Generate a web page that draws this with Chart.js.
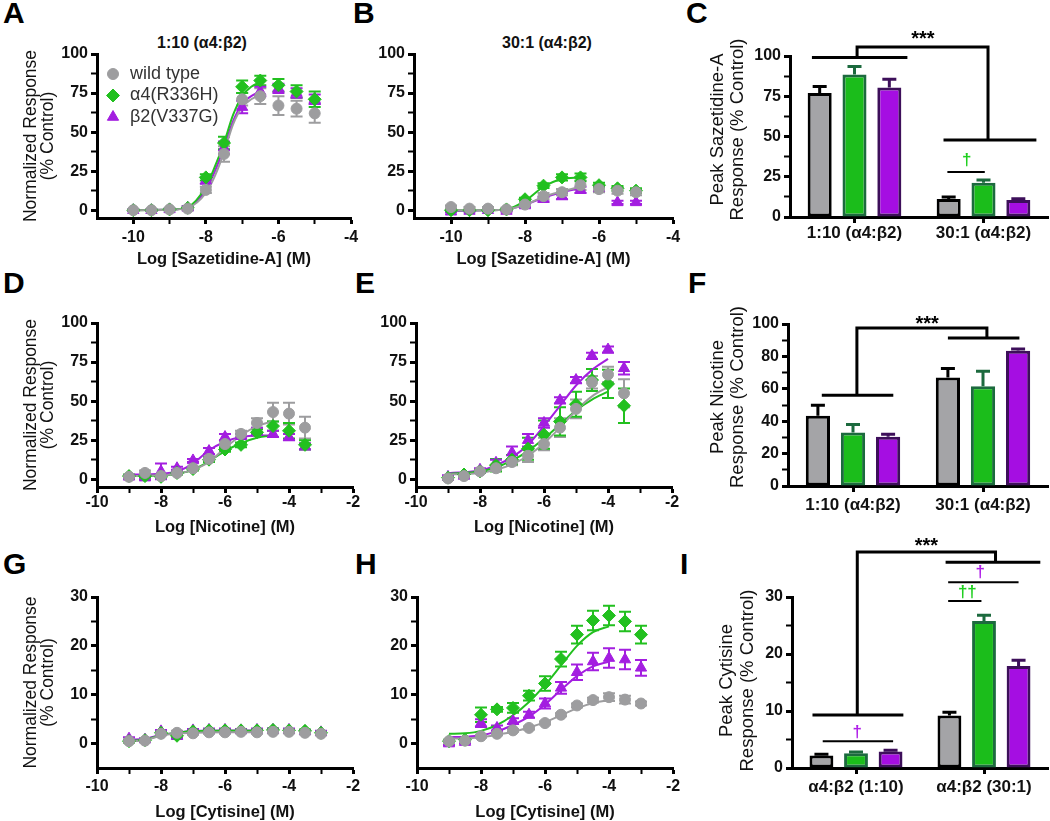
<!DOCTYPE html>
<html lang="en">
<head>
<meta charset="UTF-8">
<title>Peak response panels</title>
<script src="https://cdn.jsdelivr.net/npm/chart.js"></script>
<style>
  body { margin:0; background:#fff; font-family: Arial, "Liberation Sans", sans-serif; }
  #fig { position:relative; width:1050px; height:821px; overflow:hidden; }
  #fig canvas { position:absolute; }
  .lbl { position:absolute; font-weight:bold; font-size:30px; line-height:30px; color:#000; }
  .ttl { position:absolute; font-weight:bold; font-size:16px; line-height:18px; color:#111; transform:translateX(-50%); white-space:nowrap; }
</style>
</head>
<body>
<div id="fig">
  <div class="lbl" style="left:3px;top:-2px">A</div>
  <div class="lbl" style="left:353px;top:-2px">B</div>
  <div class="lbl" style="left:686px;top:-2px">C</div>
  <div class="lbl" style="left:3px;top:268px">D</div>
  <div class="lbl" style="left:355px;top:268px">E</div>
  <div class="lbl" style="left:688px;top:268px">F</div>
  <div class="lbl" style="left:3px;top:549px">G</div>
  <div class="lbl" style="left:355px;top:549px">H</div>
  <div class="lbl" style="left:680px;top:549px">I</div>
  <div class="ttl" style="left:202px;top:34px">1:10 (α4:β2)</div>
  <div class="ttl" style="left:547px;top:34px">30:1 (α4:β2)</div>
</div>
<script>
// ---- data ----
// A: Sazetidine-A, 1:10
const saX = [-10, -9.5, -9, -8.5, -8, -7.5, -7, -6.5, -6, -5.5, -5];
const aWt = [0, 0, 0.5, 1, 13, 36, 71, 73, 67, 65, 62];
const aWtErr = [0.5, 0.5, 0.5, 1, 2, 5, 4, 5, 6, 5, 6];
const aR = [0, 0, 0.5, 1.5, 21, 43, 79, 83, 80, 76, 71];
const aRErr = [0.5, 0.5, 0.5, 1, 2, 4, 4, 3, 4, 4, 5];
const aV = [0, 0, 0.5, 1.5, 19, 40, 66, 76, 78, 75, 71];
const aVErr = [0.5, 0.5, 0.5, 1, 2, 4, 4, 3, 3, 3, 3];
const aFitX = [-10, -9, -8.5, -8, -7.75, -7.5, -7.25, -7, -6.75, -6.5];
const aFitWt = [0, 0.3, 1.5, 11, 22, 37, 55, 66, 71, 74];
const aFitR = [0, 0.4, 2, 15, 28, 43, 61, 73, 79, 82];
const aFitV = [0, 0.4, 1.8, 13, 25, 40, 57, 68, 73, 76];

// B: Sazetidine-A, 30:1
const bWt = [2, 1, 1, 0.5, 3.6, 9, 11.5, 16, 13.5, 12.5, 11.5];
const bWtErr = [1, 1, 1, 1, 1, 2, 2, 3, 2, 2, 2];
const bR = [0, 0, 0, 0.5, 7, 15.7, 21, 21, 16, 14, 12.5];
const bRErr = [0.5, 0.5, 0.5, 0.5, 1, 1.5, 2, 2.5, 1.5, 1.5, 1.5];
const bV = [-1, -0.5, 0, -0.5, 3, 7, 9, 13, 14, 5, 5];
const bVErr = [0.5, 0.5, 0.5, 0.5, 1, 1.5, 2, 2, 1.5, 1, 1];
const bFitX = [-10, -9, -8.5, -8, -7.5, -7, -6.5];
const bFitWt = [0, 0, 0.5, 3.5, 8.5, 12, 15];
const bFitR = [0, 0, 0.5, 6, 15, 20, 21];
const bFitV = [-0.5, 0, 0.5, 3.5, 8, 11.5, 14];

// D, E: Nicotine
const niX = [-9, -8.5, -8, -7.5, -7, -6.5, -6, -5.5, -5, -4.5, -4, -3.5];
const dWt = [1.5, 4, 2, 4, 7, 13, 22.5, 29, 36, 43, 42, 33];
const dWtErr = [1, 1.5, 1, 1, 1, 1.5, 2, 2, 3, 6, 7, 7];
const dR = [2, 2, 1.5, 4, 6.5, 12.5, 19, 22, 30, 34, 31, 22];
const dRErr = [1, 1, 1, 1, 1, 1.5, 1.5, 1.5, 2, 3, 5, 3];
const dV = [1.5, 1, 5, 7, 12, 18, 27, 27.5, 31, 29, 27, 21];
const dVErr = [1, 1, 5, 1, 1, 2, 2, 1.5, 2, 2, 2, 2];
const dFitX = [-9, -8, -7.5, -7, -6.5, -6, -5.5, -5, -4.5];
const dFitWt = [2, 2.5, 3.5, 6, 11, 20, 28, 34, 37];
const dFitR = [2, 2.3, 3.5, 6, 11.5, 18, 23, 26.5, 28];
const dFitV = [3, 3.5, 5, 10, 18.5, 24, 27, 28, 28];

const eWt = [0.5, 2, 5, 7, 11, 15, 22.5, 33, 45, 62, 67, 55];
const eWtErr = [1, 1, 1, 1, 2, 4, 4, 6, 6, 4, 5, 9];
const eR = [1, 3, 5, 9, 12.5, 19.5, 28.5, 37, 48, 63.5, 61, 47];
const eRErr = [1, 1, 1, 4, 3, 7, 9, 9, 8, 7, 9, 11];
const eV = [1.5, 2, 6, 10.5, 17, 25, 36, 50.5, 63.5, 79, 83, 71];
const eVErr = [1, 1, 1, 2, 4, 4, 3, 2, 2, 2, 2, 4];
const eFitX = [-9, -8.5, -8, -7.5, -7, -6.5, -6, -5.5, -5, -4.5, -4];
const eFitWt = [3, 3.3, 4, 6, 9.5, 15, 23, 33, 44, 53, 59];
const eFitR = [3.5, 4, 5, 7.5, 12, 18, 26, 35, 44, 51, 56];
const eFitV = [4, 4.5, 5.5, 9, 14, 22, 34, 47, 60, 70, 77];

// G, H: Cytisine
const cyX = [-9, -8.5, -8, -7.5, -7, -6.5, -6, -5.5, -5, -4.5, -4, -3.5, -3];
const gWt = [0.5, 0.6, 2, 2.2, 2.1, 2.3, 2.3, 2.4, 2.3, 2.4, 2.4, 2.2, 2.0];
const gR = [0.5, 0.7, 2.2, 1.6, 2.5, 2.7, 2.7, 2.7, 2.7, 2.8, 2.7, 2.6, 2.2];
const gV = [1, 0.8, 2.5, 1.5, 2.7, 2.8, 2.8, 2.7, 2.8, 2.8, 2.8, 2.5, 2.3];
const gErr = [0.3, 0.3, 0.3, 0.4, 0.3, 0.3, 0.3, 0.3, 0.3, 0.3, 0.3, 0.3, 0.3];
const gFitX = [-9, -8.5, -8, -7.5, -7, -6, -5];
const gFitWt = [0.5, 0.7, 1.6, 2.1, 2.2, 2.3, 2.3];
const gFitR = [0.6, 0.8, 1.7, 2.2, 2.5, 2.6, 2.6];
const gFitV = [0.8, 1, 1.8, 2.2, 2.6, 2.7, 2.7];

const hWt = [0.5, 0.6, 1.5, 2, 2.7, 3.2, 4.2, 5.9, 7.8, 8.9, 9.5, 9.0, 8.2];
const hWtErr = [0.2, 0.2, 0.3, 0.3, 0.3, 0.3, 0.3, 0.3, 0.4, 0.5, 0.8, 0.8, 0.4];
const hR = [0.5, 0.8, 5.9, 7, 7.3, 9.8, 12.3, 17.3, 22.3, 25.2, 26.2, 25, 22.3];
const hRErr = [0.3, 0.3, 1.5, 0.5, 1, 1, 1.5, 1.5, 1.8, 2, 2, 2, 1.8];
const hV = [0, 0.3, 4.2, 3.2, 4.6, 5.9, 8.2, 11.4, 14.6, 16.8, 17.5, 17.2, 15.5];
const hVErr = [0.3, 0.3, 0.8, 0.5, 0.6, 0.6, 1, 1.2, 1.6, 1.8, 2, 2, 1.6];
const hFitX = [-9, -8.5, -8, -7.5, -7, -6.5, -6, -5.5, -5, -4.5, -4];
const hFitWt = [1, 1.1, 1.3, 1.8, 2.4, 3.3, 4.4, 5.8, 7.2, 8.3, 8.9];
const hFitR = [2, 2.1, 2.6, 3.8, 5.8, 8.5, 12, 16, 20, 22.8, 24];
const hFitV = [1.3, 1.4, 1.7, 2.5, 3.8, 5.5, 8, 11, 13.8, 15.8, 16.8];

// C, F, I: peak responses
const ratioCats = ['1:10 (α4:β2)', '30:1 (α4:β2)'];
const ratioCatsI = ['α4:β2 (1:10)', 'α4:β2 (30:1)'];
const cWt = [77, 11.2], cWtErr = [4, 1.2];
const cR = [88.5, 21.3], cRErr = [5, 1.7];
const cV = [80.5, 10.5], cVErr = [5, 0.8];
const fWt = [43.4, 67], fWtErr = [6.5, 5.5];
const fR = [33, 61.5], fRErr = [5, 9.3];
const fV = [30.4, 83.5], fVErr = [1.6, 1];
const iWt = [2.2, 9.2], iWtErr = [0.2, 0.6];
const iR = [2.6, 25.8], iRErr = [0.2, 1];
const iV = [2.9, 17.9], iVErr = [0.2, 1];

const seriesNames = ['wild type', 'α4(R336H)', 'β2(V337G)'];

// significance marks, in axis units (category index, response)
const annC = {
  lines: [
    {w: 3, pts: [[-0.33, 99], [0.41, 99]]},
    {w: 3, pts: [[0.02, 99], [0.02, 105.6], [1.035, 105.6], [1.035, 47.8]]},
    {w: 3, pts: [[0.69, 47.8], [1.41, 47.8]]},
    {w: 2, pts: [[0.72, 28], [1.01, 28]]}
  ],
  texts: [
    {x: 0.53, y: 110, s: '***', c: '#000', size: 20},
    {x: 0.87, y: 35, s: '†', c: 'green'}
  ]
};
const annF = {
  lines: [
    {w: 3, pts: [[-0.24, 56], [0.31, 56]]},
    {w: 3, pts: [[0.03, 56], [0.03, 97.5], [1.03, 97.5], [1.03, 91.4]]},
    {w: 3, pts: [[0.73, 91.4], [1.28, 91.4]]}
  ],
  texts: [
    {x: 0.57, y: 99.4, s: '***', c: '#000', size: 20}
  ]
};
const annI = {
  lines: [
    {w: 3, pts: [[-0.34, 9.3], [0.37, 9.3]]},
    {w: 3, pts: [[0.01, 9.3], [0.01, 37.9], [1.09, 37.9], [1.09, 36.1]]},
    {w: 3, pts: [[0.7, 36.1], [1.44, 36.1]]},
    {w: 2, pts: [[0.72, 32.6], [1.27, 32.6]]},
    {w: 2, pts: [[0.72, 29.3], [0.98, 29.3]]},
    {w: 2, pts: [[-0.26, 4.7], [0.29, 4.7]]}
  ],
  texts: [
    {x: 0.55, y: 38.9, s: '***', c: '#000', size: 20},
    {x: 0.97, y: 34.4, s: '†', c: 'purple'},
    {x: 0.87, y: 30.9, s: '††', c: 'green'},
    {x: 0.01, y: 6.3, s: '†', c: 'purple'}
  ]
};

// ---- styling ----
const GRAY = '#9d9d9f', GREEN = '#22c01f', PURPLE = '#a31ee0';
const markColor = {green: '#1fcf1f', purple: '#b020e8'};
const barFill = ['#a4a4a7', '#1bbd1b', '#a50ee2'];
const barEdge = ['#000000', '#1c6a3e', '#3d0f5a'];
const FONT = 'Arial, "Liberation Sans", sans-serif';
Chart.defaults.font.family = FONT;
Chart.defaults.color = '#111';

// error bars: both ways for points, upward only for bars
Chart.register({
  id: 'errBars',
  beforeDatasetsDraw(chart) { if (chart.config.type === 'scatter') drawErrs(chart, false); },
  afterDatasetsDraw(chart) { if (chart.config.type === 'bar') drawErrs(chart, true); }
});
function drawErrs(chart, up) {
  const ctx = chart.ctx, y = chart.scales.y;
  ctx.save();
  chart.data.datasets.forEach((ds, i) => {
    if (!ds.errs) return;
    const meta = chart.getDatasetMeta(i);
    ctx.strokeStyle = ds.errColor;
    ctx.lineWidth = up ? 3 : 2;
    meta.data.forEach((el, j) => {
      const e = ds.errs[j];
      if (!e) return;
      const v = up ? ds.data[j] : ds.data[j].y;
      const px = el.x;
      const top = y.getPixelForValue(v + e);
      const bot = y.getPixelForValue(up ? v : v - e);
      const cap = up ? 7 : 6;
      ctx.beginPath();
      ctx.moveTo(px, bot); ctx.lineTo(px, top);
      ctx.moveTo(px - cap, top); ctx.lineTo(px + cap, top);
      if (!up) { ctx.moveTo(px - cap, bot); ctx.lineTo(px + cap, bot); }
      ctx.stroke();
    });
  });
  ctx.restore();
}

// rotated y-axis titles, drawn by hand so the text keeps its natural width
function yTitlePlugin(o) {
  return {
    id: 'yTitle',
    afterDraw(chart) {
      if (!o.ytitle) return;
      const {ctx, chartArea} = chart;
      const cy = (chartArea.top + chartArea.bottom) / 2 + (o.ydy || 0);
      ctx.save();
      ctx.fillStyle = '#111';
      ctx.font = o.yfs + 'px ' + FONT;
      ctx.textAlign = 'center';
      ctx.textBaseline = 'middle';
      o.ytitle.forEach((line, i) => {
        ctx.save();
        ctx.translate(o.ytx + i * o.ygap, cy);
        ctx.rotate(-Math.PI / 2);
        ctx.fillText(line, 0, 0);
        ctx.restore();
      });
      ctx.restore();
    }
  };
}

function bracketPlugin(ann) {
  return {
    id: 'brackets',
    afterDraw(chart) {
      const {ctx, scales: {x, y}} = chart;
      ctx.save();
      ctx.strokeStyle = '#000';
      ctx.lineCap = 'butt';
      ann.lines.forEach(l => {
        ctx.beginPath();
        ctx.lineWidth = l.w;
        l.pts.forEach((p, i) => {
          const px = x.getPixelForValue(p[0]), py = y.getPixelForValue(p[1]);
          if (i) ctx.lineTo(px, py); else ctx.moveTo(px, py);
        });
        ctx.stroke();
      });
      ctx.textAlign = 'center';
      ctx.textBaseline = 'middle';
      ann.texts.forEach(t => {
        ctx.fillStyle = markColor[t.c] || t.c;
        ctx.font = 'bold ' + (t.size || 17) + 'px ' + FONT;
        ctx.fillText(t.s, x.getPixelForValue(t.x), y.getPixelForValue(t.y));
      });
      ctx.restore();
    }
  };
}

const legendA = {
  id: 'legendA',
  afterDatasetsDraw(chart) {
    const {ctx, chartArea} = chart;
    const styles = [['circle', 5.5, GRAY], ['rectRot', 6.5, GREEN], ['triangle', 6.5, PURPLE]];
    ctx.save();
    ctx.font = '18px ' + FONT;
    ctx.textBaseline = 'middle';
    seriesNames.forEach((n, i) => {
      const cx = chartArea.left + 16, cy = chartArea.top + 20 + i * 21.5;
      ctx.fillStyle = styles[i][2];
      ctx.strokeStyle = styles[i][2];
      Chart.helpers.drawPoint(ctx, {pointStyle: styles[i][0], radius: styles[i][1], borderWidth: 1, rotation: 0}, cx, cy);
      ctx.fillStyle = '#333';
      ctx.fillText(n, cx + 17, cy);
    });
    ctx.restore();
  }
};

function makeCanvas(b) {
  const c = document.createElement('canvas');
  c.width = b.w; c.height = b.h;
  c.style.left = b.l + 'px'; c.style.top = b.t + 'px';
  document.getElementById('fig').appendChild(c);
  return c;
}

function doseSets(x, wt, wtE, r, rE, v, vE, fx, fw, fr, fv) {
  const pts = ys => ys.map((y, i) => ({x: x[i], y}));
  const fit = ys => ys.map((y, i) => ({x: fx[i], y}));
  const point = (data, errs, col, style, rad) => ({
    data, errs, errColor: col, pointStyle: style, pointRadius: rad,
    backgroundColor: col, borderColor: col, borderWidth: 1, showLine: false, clip: false
  });
  const line = (data, col) => ({
    data, showLine: true, pointRadius: 0, borderColor: col, borderWidth: 2,
    cubicInterpolationMode: 'monotone', fill: false, clip: false
  });
  return [
    point(pts(wt), wtE, GRAY, 'circle', 5.5),
    point(pts(r), rE, GREEN, 'rectRot', 6.5),
    point(pts(v), vE, PURPLE, 'triangle', 6.5),
    line(fit(fw), GRAY),
    line(fit(fr), GREEN),
    line(fit(fv), PURPLE)
  ];
}

function tickW(list) { return c => (c.tick && list.includes(c.tick.value)) ? 3 : 2; }

function axisX(o) {
  return {
    type: 'linear', min: o.xmin, max: o.xmax,
    afterBuildTicks: s => { s.ticks = o.xt.map(v => ({value: v})); },
    afterFit: s => { s.height = o.xh; },
    border: {display: true, color: '#000', width: 3},
    grid: {drawOnChartArea: false, drawTicks: true, tickLength: 6, tickColor: '#000', tickWidth: tickW(o.xl)},
    ticks: {autoSkip: false, maxRotation: 0, padding: o.xpad, color: '#111',
      font: {size: 16, weight: 'bold'}, callback: v => o.xl.includes(v) ? String(v) : ''},
    title: {display: true, text: o.xtitle, color: '#111', font: {size: 16.5, weight: 'bold', lineHeight: 1},
      padding: {top: 0, bottom: o.tpad}}
  };
}
function axisY(o) {
  return {
    type: 'linear', min: o.ymin, max: o.ymax,
    afterBuildTicks: s => { s.ticks = o.yt.map(v => ({value: v})); },
    afterFit: s => { s.width = o.yw; },
    border: {display: true, color: '#000', width: 3},
    grid: {drawOnChartArea: false, drawTicks: true, tickLength: 6, tickColor: '#000', tickWidth: tickW(o.yl)},
    ticks: {autoSkip: false, padding: 3, color: '#111', font: {size: 16, weight: 'bold'},
      callback: v => o.yl.includes(v) ? String(v) : ''}
  };
}

function doseChart(box, sets, o, extra) {
  new Chart(makeCanvas(box), {
    type: 'scatter',
    data: {datasets: sets},
    options: {
      responsive: false, animation: false, events: [],
      layout: {padding: {top: o.pt, right: o.pr, left: 0, bottom: 0}},
      plugins: {legend: {display: false}, tooltip: {enabled: false}},
      scales: {x: axisX(o), y: axisY(o)}
    },
    plugins: [yTitlePlugin(o)].concat(extra || [])
  });
}

function barChart(box, cats, vals, errs, o, ann) {
  const sets = vals.map((v, i) => ({
    label: seriesNames[i], data: v, errs: errs[i], errColor: barEdge[i],
    backgroundColor: barFill[i], borderColor: barEdge[i], borderWidth: 3, borderSkipped: false,
    categoryPercentage: 0.81, barPercentage: 0.69
  }));
  new Chart(makeCanvas(box), {
    type: 'bar',
    data: {labels: cats, datasets: sets},
    options: {
      responsive: false, animation: false, events: [],
      layout: {padding: {top: o.pt, right: o.pr, left: 0, bottom: 0}},
      plugins: {legend: {display: false}, tooltip: {enabled: false}},
      scales: {
        x: {
          type: 'category', offset: true,
          afterFit: s => { s.height = o.xh; },
          border: {display: true, color: '#000', width: 3},
          grid: {offset: false, drawOnChartArea: false, drawTicks: true, tickLength: 6, tickColor: '#000', tickWidth: 3},
          ticks: {padding: o.xpad, color: '#111', font: {size: 17, weight: 'bold'}}
        },
        y: axisY(o)
      }
    },
    plugins: [yTitlePlugin(o), bracketPlugin(ann)]
  });
}

// ---- panels ----
const saAxes = {xmin: -11, xmax: -4, xt: [-10, -9, -8, -7, -6, -5, -4], xl: [-10, -8, -6, -4],
  ymin: -5, ymax: 100, yt: [0, 12.5, 25, 37.5, 50, 62.5, 75, 87.5, 100], yl: [0, 25, 50, 75, 100],
  xh: 52, xpad: 4, tpad: 2, xtitle: 'Log [Sazetidine-A] (M)', pt: 54, pr: 12};
const niAxes = {xmin: -10, xmax: -2, xt: [-10, -9, -8, -7, -6, -5, -4, -3, -2], xl: [-10, -8, -6, -4, -2],
  ymin: -5, ymax: 100, yt: [0, 12.5, 25, 37.5, 50, 62.5, 75, 87.5, 100], yl: [0, 25, 50, 75, 100],
  xh: 53, xpad: 0, tpad: 4, xtitle: 'Log [Nicotine] (M)', pt: 53, pr: 12};
const cyAxes = {xmin: -10, xmax: -2, xt: [-10, -9, -8, -7, -6, -5, -4, -3, -2], xl: [-10, -8, -6, -4, -2],
  ymin: -5, ymax: 30, yt: [0, 5, 10, 15, 20, 25, 30], yl: [0, 10, 20, 30],
  xh: 53, xpad: 3, tpad: 0, xtitle: 'Log [Cytisine] (M)', pt: 57, pr: 12};
const normTitle = {ytitle: ['Normalized Response', '(% Control)'], yfs: 17.5, ytx: 31, ygap: 17, ydy: 0};

doseChart({l: 0, t: 0, w: 363, h: 270},
  doseSets(saX, aWt, aWtErr, aR, aRErr, aV, aVErr, aFitX, aFitWt, aFitR, aFitV),
  Object.assign({}, saAxes, normTitle, {yw: 97}), [legendA]);
doseChart({l: 360, t: 0, w: 325, h: 270},
  doseSets(saX, bWt, bWtErr, bR, bRErr, bV, bVErr, bFitX, bFitWt, bFitR, bFitV),
  Object.assign({}, saAxes, {yw: 54}));
barChart({l: 690, t: 0, w: 360, h: 270}, ratioCats, [cWt, cR, cV], [cWtErr, cRErr, cVErr],
  {ymin: 0, ymax: 100, yt: [0, 12.5, 25, 37.5, 50, 62.5, 75, 87.5, 100], yl: [0, 25, 50, 75, 100],
   yw: 100, ytitle: ['Peak Sazetidine-A', 'Response (% Control)'], yfs: 18.5, ytx: 27.5, ygap: 20.5, ydy: -7,
   xh: 53, xpad: 0, pt: 56, pr: 2}, annC);

doseChart({l: 0, t: 270, w: 365, h: 270},
  doseSets(niX, dWt, dWtErr, dR, dRErr, dV, dVErr, dFitX, dFitWt, dFitR, dFitV),
  Object.assign({}, niAxes, normTitle, {yw: 97}));
doseChart({l: 360, t: 270, w: 324, h: 270},
  doseSets(niX, eWt, eWtErr, eR, eRErr, eV, eVErr, eFitX, eFitWt, eFitR, eFitV),
  Object.assign({}, niAxes, {yw: 56}));
barChart({l: 690, t: 270, w: 360, h: 270}, ratioCats, [fWt, fR, fV], [fWtErr, fRErr, fVErr],
  {ymin: 0, ymax: 100, yt: [0, 10, 20, 30, 40, 50, 60, 70, 80, 90, 100], yl: [0, 20, 40, 60, 80, 100],
   yw: 98, ytitle: ['Peak Nicotine', 'Response (% Control)'], yfs: 18.5, ytx: 27.5, ygap: 20.5, ydy: -8,
   xh: 54, xpad: 3, pt: 54, pr: 2}, annF);

doseChart({l: 0, t: 540, w: 365, h: 281},
  doseSets(cyX, gWt, gErr, gR, gErr, gV, gErr, gFitX, gFitWt, gFitR, gFitV),
  Object.assign({}, cyAxes, normTitle, {yw: 97}));
doseChart({l: 360, t: 540, w: 325, h: 281},
  doseSets(cyX, hWt, hWtErr, hR, hRErr, hV, hVErr, hFitX, hFitWt, hFitR, hFitV),
  Object.assign({}, cyAxes, {yw: 57}));
barChart({l: 690, t: 530, w: 360, h: 291}, ratioCatsI, [iWt, iR, iV], [iWtErr, iRErr, iVErr],
  {ymin: 0, ymax: 30, yt: [0, 5, 10, 15, 20, 25, 30], yl: [0, 10, 20, 30],
   yw: 102, ytitle: ['Peak Cytisine', 'Response (% Control)'], yfs: 18.5, ytx: 37, ygap: 20.5, ydy: -2,
   xh: 53, xpad: 3, pt: 67, pr: 2}, annI);
</script>
</body>
</html>
